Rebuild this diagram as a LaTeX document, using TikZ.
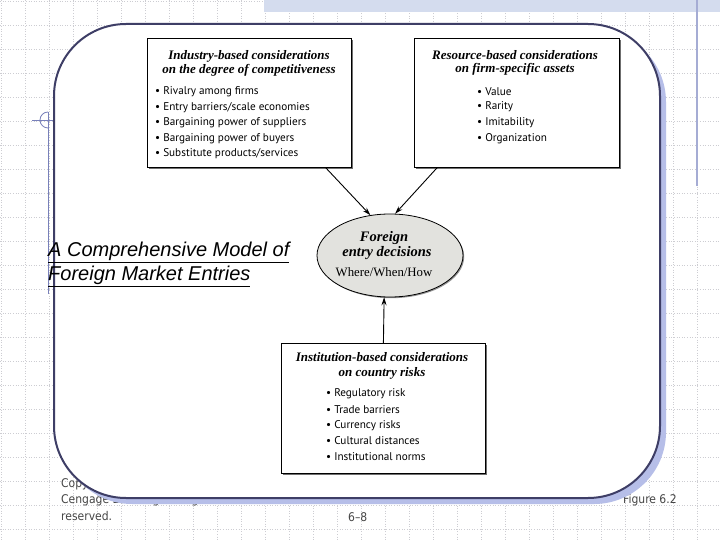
\documentclass[tikz,border=0pt]{standalone}
\usepackage{fontspec}
\setmainfont{Liberation Serif}
\newfontfamily\titlefont{Liberation Sans}
\newfontfamily\footfont{DejaVu Sans Condensed}
\newfontfamily\bulfont{PT Sans}
\usetikzlibrary{shapes.geometric,arrows.meta,shadows,calc}
\definecolor{framec}{RGB}{62,62,102}
\definecolor{shadowc}{RGB}{182,190,232}
\definecolor{bandc}{RGB}{212,220,238}
\definecolor{gridc}{RGB}{205,205,210}
\definecolor{decoc}{RGB}{120,128,186}
\definecolor{deco2c}{RGB}{165,172,212}
\definecolor{footc}{RGB}{70,70,70}
\definecolor{ellfill}{RGB}{226,226,222}
\tikzset{
  gridline/.style={gridc, dotted, line width=0.6bp},
  boxnode/.style={draw=black, line width=0.8bp, fill=white, inner sep=0pt, anchor=north west,
    drop shadow={shadow xshift=1.5bp, shadow yshift=-1.5bp, fill=black!70, opacity=0.8}},
  ttl/.style={font=\fontsize{13bp}{15bp}\selectfont\bfseries\itshape, inner sep=0pt},
  ettl/.style={font=\fontsize{14.5bp}{16bp}\selectfont\bfseries\itshape, inner sep=0pt},
  bul/.style={font=\bulfont\fontsize{11.2bp}{14bp}\selectfont, anchor=west, inner sep=0pt},
  foot/.style={font=\footfont\fontsize{12bp}{14bp}\selectfont, text=footc, anchor=base west, inner sep=0pt},
  slidetitle/.style={font=\titlefont\fontsize{20bp}{24bp}\selectfont\itshape, anchor=base west, inner sep=0pt},
  arr/.style={line width=0.9bp, black, -{Stealth[length=8bp,width=5bp]}},
}
\begin{document}
\begin{tikzpicture}[x=1bp,y=-1bp]
\useasboundingbox (0,0) rectangle (720,540);
\fill[white] (0,0) rectangle (720,540);
% background grid
\foreach \i in {0,...,29} \draw[gridline] (24*\i+1,0) -- (24*\i+1,540);
\foreach \j in {0,...,22} \draw[gridline] (0,24*\j+1) -- (720,24*\j+1);
% top band and decorations
\fill[bandc] (264,0) rectangle (720,12);
\draw[deco2c, line width=1.2bp] (697,0) -- (697,186);
\draw[decoc, line width=0.8bp] (48,112) -- (48,294);
\draw[decoc, line width=0.8bp] (32,120) -- (53,120);
\draw[decoc, line width=0.8bp] (48,112) arc[start angle=270, end angle=90, radius=8];
% footer
\node[foot] (c1) at (61,487) {Copyright ©};
\node[foot] (c2) at (61,503) {Cengage Learning. All rights};
\node[foot] (c3) at (61,520) {reserved.};
\node[foot] (fig) at (623,503) {Figure 6.2};
\node[foot] (pg) at (348,521) {6–8};
% main frame
\fill[shadowc, rounded corners=72bp] (60,30) rectangle (666,504);
\draw[framec, line width=2bp, fill=white, rounded corners=72bp] (54,24) rectangle (660,498);
% slide title
\node[slidetitle] (t1) at (48,257) {\underline{A Comprehensive Model of}};
\node[slidetitle] (t2) at (48,281) {\underline{Foreign Market Entries}};
% boxes
\node[boxnode, minimum width=204bp, minimum height=129bp] (b1) at (147,38) {};
\node[boxnode, minimum width=205bp, minimum height=129bp] (b2) at (414,38) {};
\node[boxnode, minimum width=204bp, minimum height=130bp] (b3) at (281,343) {};
\node[ellipse, draw=black, line width=0.8bp, fill=ellfill, minimum width=146bp, minimum height=83bp,
  drop shadow={shadow xshift=1.2bp, shadow yshift=-1.2bp, fill=black!60, opacity=0.7}] (e) at (390,255.5) {};
% box 1 text
\node[ttl] (b1t1) at (249,56) {Industry-based considerations};
\node[ttl] (b1t2) at (249,70) {on the degree of competitiveness};
\node[bul] (b1a) at (155,91.7) {• Rivalry among firms};
\node[bul] (b1b) at (155,107.3) {• Entry barriers/scale economies};
\node[bul] (b1c) at (155,122.8) {• Bargaining power of suppliers};
\node[bul] (b1d) at (155,138.4) {• Bargaining power of buyers};
\node[bul] (b1e) at (155,154) {• Substitute products/services};
% box 2 text
\node[ttl] (b2t1) at (515,55) {Resource-based considerations};
\node[ttl] (b2t2) at (515,69) {on firm-specific assets};
\node[bul] (b2a) at (477,91.5) {• Value};
\node[bul] (b2b) at (477,107.1) {• Rarity};
\node[bul] (b2c) at (477,122.7) {• Imitability};
\node[bul] (b2d) at (477,138.3) {• Organization};
% box 3 text
\node[ttl] (b3t1) at (382,357) {Institution-based considerations};
\node[ttl] (b3t2) at (382,373) {on country risks};
\node[bul] (b3a) at (326,394) {• Regulatory risk};
\node[bul] (b3b) at (326,409.7) {• Trade barriers};
\node[bul] (b3c) at (326,425.4) {• Currency risks};
\node[bul] (b3d) at (326,441) {• Cultural distances};
\node[bul] (b3e) at (326,456.7) {• Institutional norms};
% ellipse text
\node[ettl] (e1) at (384,238.5) {Foreign};
\node[ettl] (e2) at (387,253) {entry decisions};
\node[inner sep=0pt, font=\fontsize{12.8bp}{14bp}\selectfont] (e3) at (384,272.5) {Where/When/How};
% arrows
\draw[arr] ($(b1.south west)!0.873!(b1.south east)$) -- (e.116);
\draw[arr] ($(b2.south west)!0.112!(b2.south east)$) -- (e.83);
\draw[arr] (b3.north) -- (e.262);
\end{tikzpicture}
\end{document}
